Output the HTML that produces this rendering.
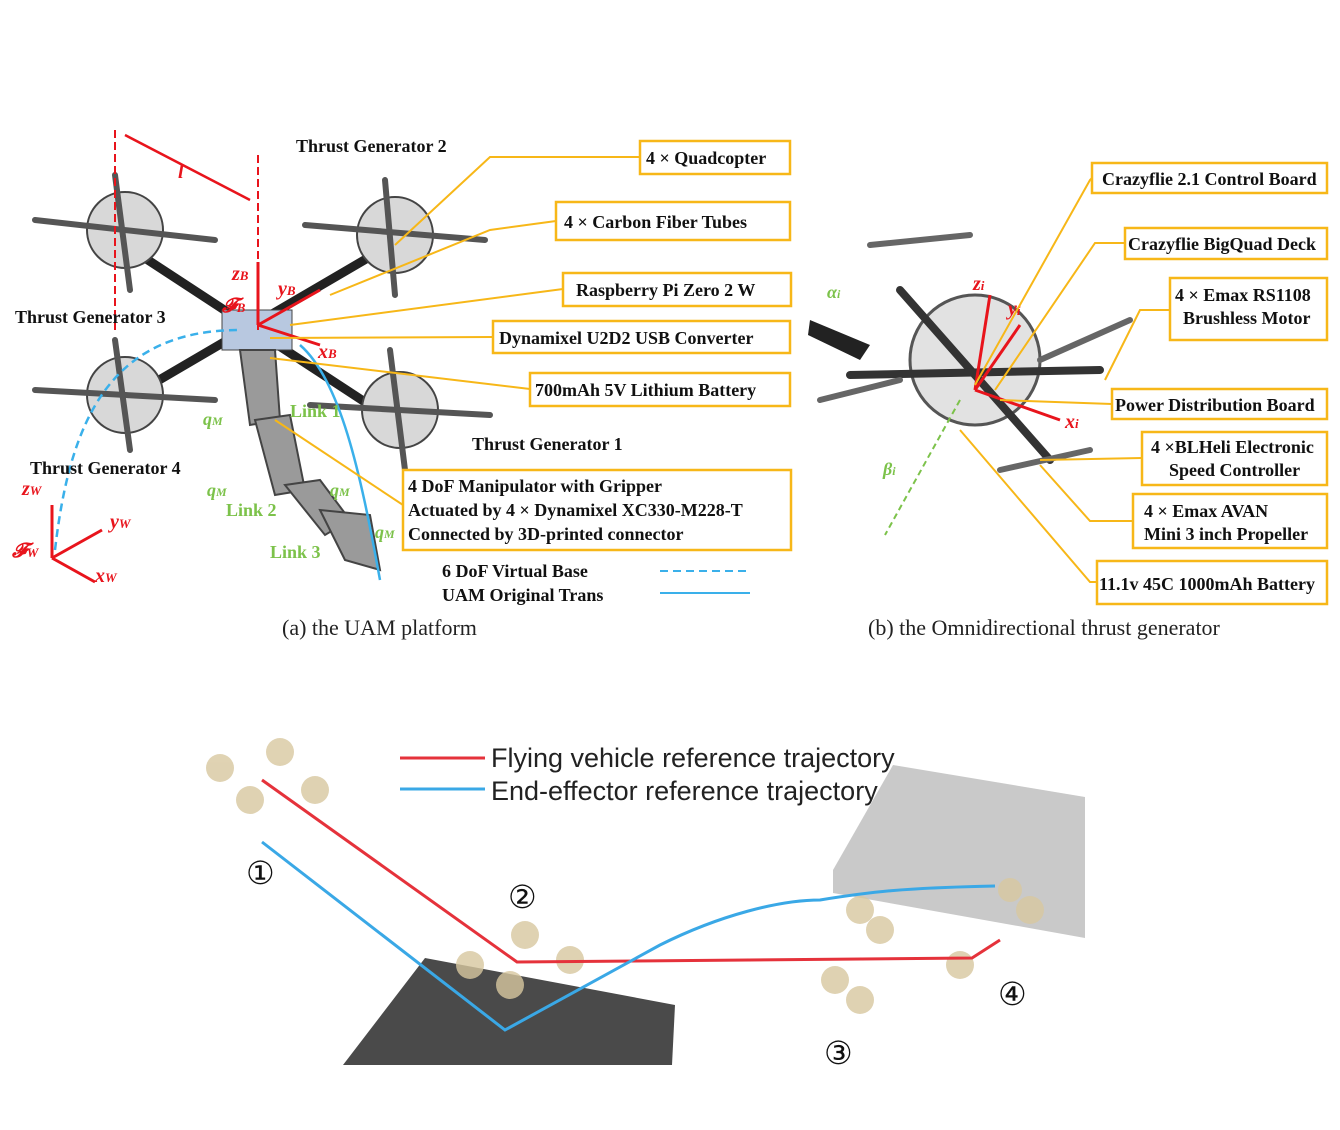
<!DOCTYPE html>
<html><head><meta charset="utf-8"><style>
html,body{margin:0;padding:0;background:#fff;}
svg{display:block;}
.lb{font-family:"Liberation Serif",serif;font-weight:bold;font-size:18px;fill:#111;}
.bx{fill:#fff;stroke:#f7b718;stroke-width:2.5;}
.ld{stroke:#f7b718;stroke-width:2;fill:none;}
.cap{font-family:"Liberation Serif",serif;font-size:22px;fill:#222;}
.red{fill:#e8141c;font-family:"Liberation Serif",serif;font-style:italic;font-weight:bold;font-size:20px;}
.grn{fill:#7cc24a;font-family:"Liberation Serif",serif;font-weight:bold;font-size:18px;}
</style></head><body>
<svg width="1340" height="1130" viewBox="0 0 1340 1130" xmlns="http://www.w3.org/2000/svg">
<rect width="1340" height="1130" fill="#fff"/>

<g>
  <g stroke="#222" stroke-width="9" stroke-linecap="round">
    <line x1="125" y1="245" x2="400" y2="425"/>
    <line x1="390" y1="245" x2="125" y2="400"/>
  </g>
  <g fill="#8a8a8a" stroke="#444" stroke-width="2">
    <circle cx="125" cy="230" r="38" fill="#d8d8d8"/>
    <circle cx="395" cy="235" r="38" fill="#d8d8d8"/>
    <circle cx="125" cy="395" r="38" fill="#d8d8d8"/>
    <circle cx="400" cy="410" r="38" fill="#d8d8d8"/>
  </g>
  <g stroke="#555" stroke-width="6" stroke-linecap="round">
    <line x1="35" y1="220" x2="215" y2="240"/><line x1="305" y1="225" x2="485" y2="240"/>
    <line x1="35" y1="390" x2="215" y2="400"/><line x1="310" y1="405" x2="490" y2="415"/>
    <line x1="115" y1="175" x2="130" y2="290"/><line x1="385" y1="180" x2="395" y2="295"/>
    <line x1="115" y1="340" x2="130" y2="450"/><line x1="390" y1="350" x2="405" y2="470"/>
  </g>
  <rect x="222" y="310" width="70" height="40" fill="#b8c8e0" stroke="#444"/>
  <g fill="#9a9a9a" stroke="#444" stroke-width="2">
    <polygon points="240,350 275,350 280,420 250,425"/>
    <polygon points="255,420 290,415 305,490 275,495"/>
    <polygon points="285,485 320,480 350,520 325,535"/>
    <polygon points="320,510 370,515 380,570 345,560"/>
  </g>
  <line x1="115" y1="130" x2="115" y2="330" stroke="#e8141c" stroke-width="2" stroke-dasharray="8,4"/>
  <line x1="258" y1="155" x2="258" y2="330" stroke="#e8141c" stroke-width="2" stroke-dasharray="8,4"/>
  <line x1="125" y1="135" x2="250" y2="200" stroke="#e8141c" stroke-width="2.5"/>
  <text x="178" y="178" class="red" font-weight="normal">l</text>
  <line x1="258" y1="325" x2="258" y2="262" stroke="#e8141c" stroke-width="3"/>
  <line x1="258" y1="325" x2="320" y2="290" stroke="#e8141c" stroke-width="3"/>
  <line x1="258" y1="325" x2="320" y2="345" stroke="#e8141c" stroke-width="3"/>
  <text x="232" y="280" class="red">z<tspan font-size="13">B</tspan></text>
  <text x="278" y="295" class="red">y<tspan font-size="13">B</tspan></text>
  <text x="318" y="358" class="red">x<tspan font-size="13">B</tspan></text>
  <text x="222" y="312" class="red">𝓕<tspan font-size="13">B</tspan></text>
  <line x1="52" y1="558" x2="52" y2="505" stroke="#e8141c" stroke-width="3"/>
  <line x1="52" y1="558" x2="102" y2="530" stroke="#e8141c" stroke-width="3"/>
  <line x1="52" y1="558" x2="95" y2="582" stroke="#e8141c" stroke-width="3"/>
  <text x="22" y="495" class="red">z<tspan font-size="13">W</tspan></text>
  <text x="110" y="528" class="red">y<tspan font-size="13">W</tspan></text>
  <text x="95" y="582" class="red">x<tspan font-size="13">W</tspan></text>
  <text x="12" y="557" class="red">𝓕<tspan font-size="13">W</tspan></text>
  <path d="M55,550 C70,420 110,330 240,330" fill="none" stroke="#3ab0ea" stroke-width="2.5" stroke-dasharray="8,5"/>
  <path d="M300,345 C340,380 360,470 380,580" fill="none" stroke="#3ab0ea" stroke-width="2.5"/>
  <text x="296" y="152" class="lb">Thrust Generator 2</text>
  <text x="15" y="323" class="lb">Thrust Generator 3</text>
  <text x="472" y="450" class="lb">Thrust Generator 1</text>
  <text x="30" y="474" class="lb">Thrust Generator 4</text>
  <text x="290" y="417" class="grn">Link 1</text>
  <text x="226" y="516" class="grn">Link 2</text>
  <text x="270" y="558" class="grn">Link 3</text>
  <text x="203" y="425" class="grn" font-style="italic">q<tspan font-size="12">M</tspan></text>
  <text x="207" y="496" class="grn" font-style="italic">q<tspan font-size="12">M</tspan></text>
  <text x="330" y="496" class="grn" font-style="italic">q<tspan font-size="12">M</tspan></text>
  <text x="375" y="538" class="grn" font-style="italic">q<tspan font-size="12">M</tspan></text>
</g>

<g>
  <polyline class="ld" points="640,157 490,157 395,245"/>
  <polyline class="ld" points="556,221 490,230 330,295"/>
  <polyline class="ld" points="563,289 290,325"/>
  <polyline class="ld" points="493,337 270,338"/>
  <polyline class="ld" points="530,389 270,358"/>
  <polyline class="ld" points="403,505 275,420"/>
  <rect class="bx" x="640" y="141" width="150" height="33"/>
  <text class="lb" x="646" y="164">4 × Quadcopter</text>
  <rect class="bx" x="556" y="202" width="234" height="38"/>
  <text class="lb" x="564" y="228">4 ×  Carbon Fiber Tubes</text>
  <rect class="bx" x="563" y="273" width="228" height="33"/>
  <text class="lb" x="576" y="296">Raspberry Pi Zero 2 W</text>
  <rect class="bx" x="493" y="321" width="297" height="32"/>
  <text class="lb" x="499" y="344">Dynamixel U2D2 USB Converter</text>
  <rect class="bx" x="530" y="373" width="260" height="33"/>
  <text class="lb" x="535" y="396">700mAh 5V Lithium Battery</text>
  <rect class="bx" x="403" y="470" width="388" height="80"/>
  <text class="lb" x="408" y="492">4 DoF Manipulator with Gripper</text>
  <text class="lb" x="408" y="516">Actuated by 4 × Dynamixel XC330-M228-T</text>
  <text class="lb" x="408" y="540">Connected by 3D-printed connector</text>
  <text class="lb" x="442" y="577">6 DoF Virtual Base</text>
  <text class="lb" x="442" y="601">UAM Original Trans</text>
  <line x1="660" y1="571" x2="750" y2="571" stroke="#3ab0ea" stroke-width="2" stroke-dasharray="8,5"/>
  <line x1="660" y1="593" x2="750" y2="593" stroke="#3ab0ea" stroke-width="2"/>
  <text class="cap" x="282" y="635">(a) the UAM platform</text>
</g>

<g>
  <circle cx="975" cy="360" r="65" fill="#e2e2e2" stroke="#555" stroke-width="3"/>
  <g stroke="#333" stroke-width="8" stroke-linecap="round">
    <line x1="900" y1="290" x2="1050" y2="460"/>
    <line x1="850" y1="375" x2="1100" y2="370"/>
  </g>
  <g stroke="#666" stroke-width="6" stroke-linecap="round">
    <line x1="870" y1="245" x2="970" y2="235"/><line x1="1040" y1="360" x2="1130" y2="320"/>
    <line x1="820" y1="400" x2="900" y2="380"/><line x1="1000" y1="470" x2="1090" y2="450"/>
  </g>
  <polygon points="810,320 870,345 860,360 808,335" fill="#222"/>
  <line x1="975" y1="390" x2="990" y2="295" stroke="#e8141c" stroke-width="3"/>
  <line x1="975" y1="390" x2="1020" y2="325" stroke="#e8141c" stroke-width="3"/>
  <line x1="975" y1="390" x2="1060" y2="420" stroke="#e8141c" stroke-width="3"/>
  <text x="973" y="290" class="red">z<tspan font-size="13">i</tspan></text>
  <text x="1008" y="315" class="red">y<tspan font-size="13">i</tspan></text>
  <text x="1065" y="428" class="red">x<tspan font-size="13">i</tspan></text>
  <line x1="960" y1="400" x2="885" y2="535" stroke="#7cc24a" stroke-width="2" stroke-dasharray="6,4"/>
  <text x="827" y="298" class="grn" font-style="italic">α<tspan font-size="12">i</tspan></text>
  <text x="883" y="475" class="grn" font-style="italic">β<tspan font-size="12">i</tspan></text>
</g>
<g>
  <polyline class="ld" points="1092,178 1090,180 975,385"/>
  <polyline class="ld" points="1125,243 1095,243 995,390"/>
  <polyline class="ld" points="1170,310 1140,310 1105,380"/>
  <polyline class="ld" points="1112,404 1000,400"/>
  <polyline class="ld" points="1142,458 1040,460"/>
  <polyline class="ld" points="1133,521 1090,521 1040,465"/>
  <polyline class="ld" points="1097,582 1090,582 960,430"/>
  <rect class="bx" x="1092" y="163" width="235" height="30"/>
  <text class="lb" x="1102" y="185">Crazyflie 2.1 Control Board</text>
  <rect class="bx" x="1125" y="228" width="202" height="31"/>
  <text class="lb" x="1128" y="250">Crazyflie BigQuad Deck</text>
  <rect class="bx" x="1170" y="278" width="157" height="62"/>
  <text class="lb" x="1175" y="301">4 × Emax RS1108</text>
  <text class="lb" x="1183" y="324">Brushless Motor</text>
  <rect class="bx" x="1112" y="389" width="215" height="30"/>
  <text class="lb" x="1115" y="411">Power Distribution Board</text>
  <rect class="bx" x="1142" y="432" width="185" height="53"/>
  <text class="lb" x="1151" y="453">4 ×BLHeli Electronic</text>
  <text class="lb" x="1169" y="476">Speed Controller</text>
  <rect class="bx" x="1133" y="494" width="194" height="54"/>
  <text class="lb" x="1144" y="517">4 × Emax AVAN</text>
  <text class="lb" x="1144" y="540">Mini 3 inch Propeller</text>
  <rect class="bx" x="1097" y="561" width="230" height="43"/>
  <text class="lb" x="1099" y="590">11.1v 45C 1000mAh Battery</text>
  <text class="cap" x="868" y="635">(b) the Omnidirectional thrust generator</text>
</g>

<g>
  <polygon points="893,765 1085,797 1085,938 833,893 833,870" fill="#c9c9c9"/>
  <polygon points="425,958 675,1005 672,1065 343,1065" fill="#4a4a4a"/>
  <g fill="#d8c8a0" opacity="0.8">
    <circle cx="220" cy="768" r="14"/><circle cx="280" cy="752" r="14"/><circle cx="315" cy="790" r="14"/><circle cx="250" cy="800" r="14"/>
    <circle cx="470" cy="965" r="14"/><circle cx="525" cy="935" r="14"/><circle cx="570" cy="960" r="14"/><circle cx="510" cy="985" r="14"/>
    <circle cx="860" cy="910" r="14"/><circle cx="880" cy="930" r="14"/><circle cx="835" cy="980" r="14"/><circle cx="860" cy="1000" r="14"/>
    <circle cx="960" cy="965" r="14"/><circle cx="1030" cy="910" r="14"/><circle cx="1010" cy="890" r="12"/>
  </g>
  <polyline points="262,780 517,962 972,958 1000,940" fill="none" stroke="#e5323b" stroke-width="3"/>
  <path d="M262,842 L505,1030 L660,945 C720,915 780,900 820,900 C870,892 900,888 995,886" fill="none" stroke="#3aa8e6" stroke-width="3"/>
  <line x1="400" y1="758" x2="485" y2="758" stroke="#e5323b" stroke-width="3"/>
  <line x1="400" y1="789" x2="485" y2="789" stroke="#3aa8e6" stroke-width="3"/>
  <text x="491" y="767" font-family="'Liberation Sans',sans-serif" font-size="27" fill="#222">Flying vehicle reference trajectory</text>
  <text x="491" y="800" font-family="'Liberation Sans',sans-serif" font-size="27" fill="#222">End-effector reference trajectory</text>
  <g font-family="'DejaVu Sans',sans-serif" font-size="32" fill="#111">
    <text x="246" y="884">①</text>
    <text x="508" y="908">②</text>
    <text x="824" y="1064">③</text>
    <text x="998" y="1005">④</text>
  </g>
</g>
</svg>
</body></html>
